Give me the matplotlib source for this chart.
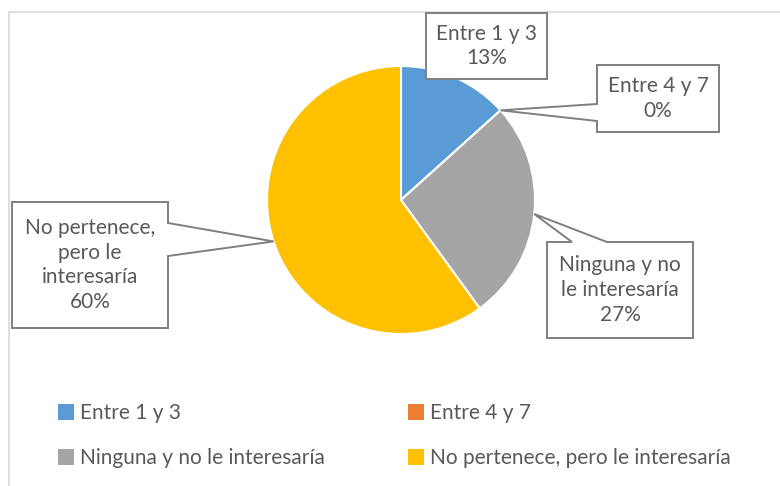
import matplotlib
matplotlib.use("Agg")
import matplotlib.pyplot as plt
from matplotlib.patches import Polygon
import numpy as np

plt.rcParams['font.family'] = ['Lato', 'DejaVu Sans']

# respuestas (15 personas)
categories = ["Entre 1 y 3", "Entre 4 y 7", "Ninguna y no le interesaría",
              "No pertenece, pero le interesaría"]
callout_names = ["Entre 1 y 3", "Entre 4 y 7", "Ninguna y no\nle interesaría",
                 "No pertenece,\npero le\ninteresaría"]
counts = [2, 0, 4, 9]
colors = ["#5B9BD5", "#ED7D31", "#A5A5A5", "#FFC000"]

W, H = 780, 486
TXT = "#595959"


def py(y):
    # pixel row -> data y
    return H - y


def callout(ax, box, side=None, base=None, tip=None):
    x0, y0, x1, y1 = box
    tl, tr, br, bl = (x0, py(y0)), (x1, py(y0)), (x1, py(y1)), (x0, py(y1))
    pts = [tl]
    if side == "top":
        pts += [(base[0], py(y0)), tip, (base[1], py(y0))]
    pts.append(tr)
    if side == "right":
        pts += [(x1, py(base[0])), tip, (x1, py(base[1]))]
    pts.append(br)
    pts.append(bl)
    if side == "left":
        pts += [(x0, py(base[1])), tip, (x0, py(base[0]))]
    poly = Polygon(pts, closed=True, facecolor="white", edgecolor="#7F7F7F",
                   linewidth=1.4, zorder=5)
    ax.add_patch(poly)


fig = plt.figure(figsize=(7.8, 4.86), dpi=100)
ax = fig.add_axes([0, 0, 1, 1])

cx, cy, r = 401, py(200), 134
wedges, _ = ax.pie(counts, colors=colors, startangle=90, counterclock=False,
                   center=(cx, cy), radius=r,
                   wedgeprops=dict(edgecolor="white", linewidth=1.5))
ax.set_xlim(0, W)
ax.set_ylim(0, H)
ax.axis("off")

# chart border
ax.plot([9, 9, W + 5], [-5, py(12), py(12)], color="#D9D9D9", lw=1.2)

total = sum(counts)
boxes = [(426, 13, 547, 79), (597, 65, 719, 132), (547, 242, 693, 338), (12, 202, 168, 328)]
sides = [None, "left", "top", "right"]
bases = [None, (104, 121), (572, 607), (223, 256)]

for w, name, c, box, side, base in zip(wedges, callout_names, counts, boxes, sides, bases):
    mid = np.deg2rad((w.theta1 + w.theta2) / 2)
    tip = (cx + r * np.cos(mid), cy + r * np.sin(mid))
    callout(ax, box, side, base, tip)
    label = f"{name}\n{round(100 * c / total)}%"
    ax.text((box[0] + box[2]) / 2, py((box[1] + box[3]) / 2), label,
            ha="center", va="center", fontsize=15, color=TXT,
            linespacing=1.3, zorder=6)

order = [0, 2, 1, 3]
leg = ax.legend([wedges[i] for i in order], [categories[i] for i in order],
                ncol=2, loc="upper left", bbox_to_anchor=(58 / W, 1 - 403 / H),
                frameon=False, fontsize=15, handlelength=0.75, handleheight=0.8,
                handletextpad=0.3, columnspacing=4.0, labelspacing=1.2,
                borderaxespad=0, borderpad=0)
for h in leg.legend_handles:
    h.set_linewidth(0)
for t in leg.get_texts():
    t.set_color(TXT)

fig.savefig("out.png", dpi=100)
